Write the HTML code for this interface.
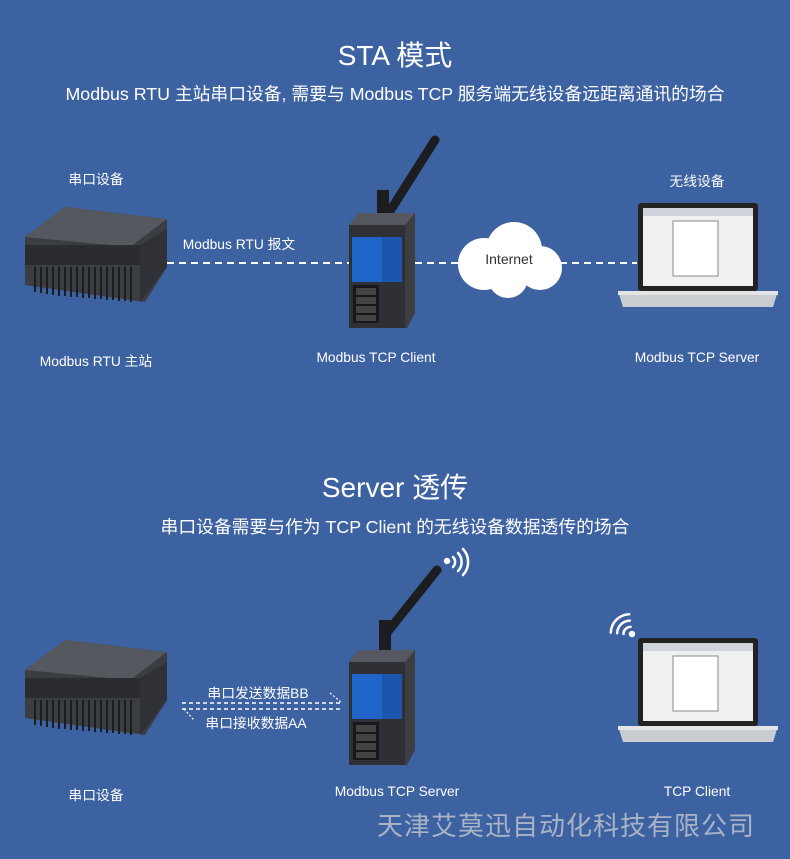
<!DOCTYPE html>
<html><head><meta charset="utf-8"><style>
body{margin:0;width:790px;height:859px;background:#3d62a2;overflow:hidden;font-family:"Liberation Sans","Noto Sans CJK SC",sans-serif;color:#fff;position:relative}
.t{position:absolute;white-space:nowrap;transform:translateX(-50%)}
.s{font-size:13.8px}
svg{position:absolute;left:0;top:0}
</style></head><body>
<div class="t" style="left:395px;top:34px;font-size:28px">STA 模式</div>
<div class="t" style="left:395px;top:80px;font-size:17.8px">Modbus RTU 主站串口设备, 需要与 Modbus TCP 服务端无线设备远距离通讯的场合</div>
<div class="t s" style="left:96px;top:168px">串口设备</div>
<div class="t s" style="left:697px;top:170px">无线设备</div>
<div class="t s" style="left:239px;top:233px">Modbus RTU 报文</div>
<div class="t s" style="left:96px;top:350px">Modbus RTU 主站</div>
<div class="t s" style="left:376px;top:350px">Modbus TCP Client</div>
<div class="t s" style="left:697px;top:350px">Modbus TCP Server</div>

<div class="t" style="left:395px;top:466px;font-size:28px">Server 透传</div>
<div class="t" style="left:395px;top:513px;font-size:17.8px">串口设备需要与作为 TCP Client 的无线设备数据透传的场合</div>
<div class="t s" style="left:258px;top:682px">串口发送数据BB</div>
<div class="t s" style="left:256px;top:712px">串口接收数据AA</div>
<div class="t s" style="left:96px;top:784px">串口设备</div>
<div class="t s" style="left:397px;top:784px">Modbus TCP Server</div>
<div class="t s" style="left:697px;top:784px">TCP Client</div>
<div class="t" style="left:566px;top:806px;font-size:26px;color:#aab3c6;letter-spacing:1px">天津艾莫迅自动化科技有限公司</div>

<svg width="790" height="859">
<defs>
<g id="plc">
<polygon points="0,30 40,0 142,12 142,60 120,95 0,78" fill="#3a3d42"/>
<polygon points="0,30 40,0 142,12 105,40" fill="#55585e"/>
<rect x="0" y="38" width="115" height="20" fill="#2a2c30"/>
<g stroke="#1b1c1f" stroke-width="2">
<path d="M10,60V85M16,60V86M22,60V87M28,60V88M34,60V89M40,60V89M46,60V90M52,60V90M58,60V91M64,60V91M70,60V92M76,60V92M82,60V93M88,60V93M94,60V94M100,60V94M106,60V95"/>
</g>
<polygon points="115,38 142,22 142,60 115,95" fill="#2f3136"/>
</g>
<g id="rtr">
<polygon points="0,12 10,0 66,0 66,100 58,115 0,115" fill="#3b3e43"/>
<polygon points="0,12 10,0 66,0 56,12" fill="#55585e"/>
<rect x="0" y="12" width="56" height="103" fill="#2e3035"/>
<rect x="3" y="24" width="30" height="45" fill="#1f64c8"/>
<rect x="33" y="24" width="20" height="45" fill="#1b55ad"/>
<rect x="4" y="72" width="26" height="38" fill="#17181b"/>
<g fill="#444"><rect x="7" y="75" width="20" height="7"/><rect x="7" y="84" width="20" height="7"/><rect x="7" y="93" width="20" height="7"/><rect x="7" y="102" width="20" height="6"/></g>
</g>
<g id="lap">
<rect x="20" y="0" width="120" height="88" rx="3" fill="#222"/>
<rect x="25" y="5" width="110" height="78" fill="#eef0f2"/>
<rect x="25" y="5" width="110" height="8" fill="#cfd4da"/>
<rect x="55" y="18" width="45" height="55" fill="#fff" stroke="#888"/>
<polygon points="0,88 160,88 155,104 5,104" fill="#c9ccd0"/>
<rect x="0" y="88" width="160" height="4" fill="#e2e4e6"/>
</g>
</defs>
<use href="#plc" x="25" y="207"/>
<use href="#plc" x="25" y="640"/>
<line x1="167" y1="263" x2="350" y2="263" stroke="#fff" stroke-width="2" stroke-dasharray="7,5"/>
<line x1="415" y1="263" x2="462" y2="263" stroke="#fff" stroke-width="2" stroke-dasharray="7,5"/>
<line x1="560" y1="263" x2="637" y2="263" stroke="#fff" stroke-width="2" stroke-dasharray="7,5"/>
<g fill="#fff"><circle cx="484" cy="264" r="26"/><circle cx="514" cy="250" r="28"/><circle cx="540" cy="268" r="22"/><circle cx="508" cy="278" r="20"/></g>
<text x="509" y="264" font-size="14" fill="#333" text-anchor="middle" font-family="Liberation Sans">Internet</text>
<line x1="383" y1="222" x2="435" y2="140" stroke="#1c1d20" stroke-width="9" stroke-linecap="round"/>
<rect x="377" y="190" width="12" height="30" fill="#1c1d20"/>
<use href="#rtr" x="349" y="213"/>
<use href="#lap" x="618" y="203"/>
<line x1="385" y1="635" x2="437" y2="570" stroke="#1c1d20" stroke-width="9" stroke-linecap="round"/>
<rect x="379" y="620" width="12" height="30" fill="#1c1d20"/>
<use href="#rtr" x="349" y="650"/>
<use href="#lap" x="618" y="638"/>
<line x1="182" y1="703" x2="342" y2="703" stroke="#fff" stroke-width="1.5" stroke-dasharray="4,3"/>
<line x1="182" y1="709" x2="342" y2="709" stroke="#fff" stroke-width="1.5" stroke-dasharray="4,3"/>
<line x1="330" y1="693" x2="342" y2="703" stroke="#fff" stroke-width="1.2" stroke-dasharray="2,2"/>
<line x1="184" y1="709" x2="194" y2="720" stroke="#fff" stroke-width="1.2" stroke-dasharray="2,2"/>
<g fill="none" stroke="#fff" stroke-width="2.5" stroke-linecap="round">
<circle cx="447" cy="561" r="2" fill="#fff"/>
<path d="M453,557a7,7 0 0 1 0,10M458,553a13,13 0 0 1 0,18M463,549a19,19 0 0 1 0,26"/>
<circle cx="632" cy="634" r="2" fill="#fff"/>
<path d="M626,630a7,7 0 0 0 0,10M621,626a13,13 0 0 0 0,18M616,622a19,19 0 0 0 0,26" transform="rotate(45 632 634)"/>
</g>
</svg>
</body></html>
